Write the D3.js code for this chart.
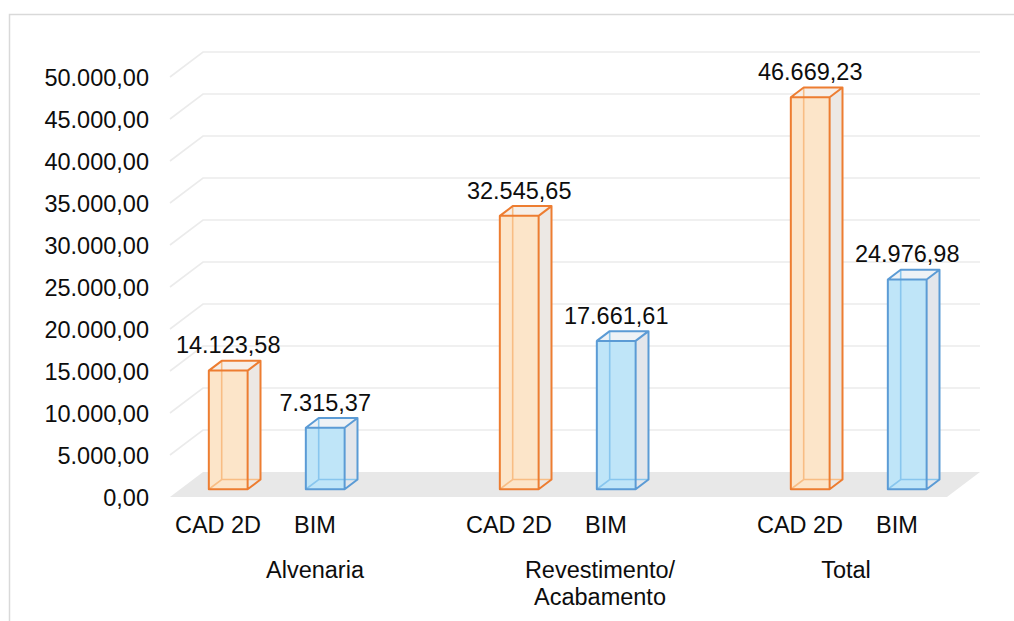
<!DOCTYPE html>
<html>
<head>
<meta charset="utf-8">
<script src="https://cdn.jsdelivr.net/npm/d3@7/dist/d3.min.js"></script>
<style>
  html, body { margin: 0; padding: 0; background: #fff; }
  svg { display: block; }
  text { font-family: "Liberation Sans", Arial, sans-serif; fill: #0d0d0d; }
</style>
</head>
<body>
<svg id="chart" width="1014" height="621"></svg>
<script>
// Groups on the category axis, the two methods compared, and their values
const groups = ["Alvenaria", "Revestimento/\nAcabamento", "Total"];
const methods = ["CAD 2D", "BIM"];
const cad2dValues = [14123.58, 32545.65, 46669.23];
const bimValues = [7315.37, 17661.61, 24976.98];
const yTicks = [0, 5000, 10000, 15000, 20000, 25000, 30000, 35000, 40000, 45000, 50000];

const W = 1014, H = 621;
const svg = d3.select("#chart");

// pt-BR number format: 50.000,00
const ptBR = d3.formatLocale({ decimal: ",", thousands: ".", grouping: [3], currency: ["R$", ""] });
const fmt = ptBR.format(",.2f");

// Oblique depth of the 3D box: full depth offset on screen
const DX = 33, DY = 25;
const BAR_FRONT = 0.31, BAR_BACK = 0.70;

const y = d3.scaleLinear().domain([0, 50000]).range([497, 77]);
const x0 = d3.scaleBand().domain(groups).range([121, 994]).padding(0);
const x1 = d3.scaleBand().domain(methods).range([0, x0.bandwidth()])
  .paddingInner(0.6).paddingOuter(0.8);
const groupLabelX = d3.scaleOrdinal().domain(groups).range([315, 600, 846]);

const plotLeft = 170, plotRight = 947;

// project (x, value, depth) into the screen
function P(x, v, d) { return [x + d * DX, y(v) - d * DY]; }

const fontSize = 23.5;

// Outer chart border
svg.append("rect")
  .attr("x", 9.5).attr("y", 14.5)
  .attr("width", W + 50).attr("height", H + 50)
  .attr("fill", "none").attr("stroke", "#d9d9d9").attr("stroke-width", 1.5);

// Floor
const floorPts = [P(plotLeft, 0, 0), P(plotRight, 0, 0), P(plotRight, 0, 1), P(plotLeft, 0, 1)];
svg.append("polygon")
  .attr("points", floorPts.map(p => p.join(",")).join(" "))
  .attr("fill", "#e8e8e8");

// Gridlines: side-wall diagonal plus back wall horizontal
const grid = svg.append("g").attr("fill", "none").attr("stroke", "#ebebeb").attr("stroke-width", 1.6);
yTicks.filter(t => t > 0).forEach(t => {
  const a = P(plotLeft, t, 0), b = P(plotLeft, t, 1), c = P(plotRight, t, 1);
  grid.append("path").attr("d", d3.line()([a, b, c]));
});

// Y axis tick labels
svg.append("g").selectAll("text").data(yTicks).join("text")
  .attr("x", 149).attr("y", d => y(d) + 8.5)
  .attr("text-anchor", "end")
  .attr("font-size", fontSize)
  .text(d => fmt(d));

const styles = {
  "CAD 2D": { stroke: "#ed7d31", front: "#fce5c9", inner: "#f8bd84", side: "#ece8e4", top: "#f6efe8" },
  "BIM":    { stroke: "#5b9bd5", front: "#bfe5f8", inner: "#88c6ee", side: "#e3e6eb", top: "#eef2f6" }
};

const rows = [];
groups.forEach((g, i) => {
  rows.push({ group: g, method: "CAD 2D", value: cad2dValues[i] });
  rows.push({ group: g, method: "BIM", value: bimValues[i] });
});

const bars = svg.append("g");
rows.forEach(r => {
  const s = styles[r.method];
  const xl = x0(r.group) + x1(r.method);
  const xr = xl + x1.bandwidth();
  const v = r.value;
  const fbl = P(xl, 0, BAR_FRONT), fbr = P(xr, 0, BAR_FRONT);
  const ftl = P(xl, v, BAR_FRONT), ftr = P(xr, v, BAR_FRONT);
  const bbl = P(xl, 0, BAR_BACK), bbr = P(xr, 0, BAR_BACK);
  const btl = P(xl, v, BAR_BACK), btr = P(xr, v, BAR_BACK);
  const poly = pts => pts.map(p => p.join(",")).join(" ");
  const g = bars.append("g");

  // right side face and top face
  g.append("polygon").attr("points", poly([fbr, ftr, btr, bbr])).attr("fill", s.side);
  g.append("polygon").attr("points", poly([ftl, ftr, btr, btl])).attr("fill", s.top);
  // front face
  g.append("polygon").attr("points", poly([fbl, fbr, ftr, ftl])).attr("fill", s.front);
  // hidden edges seen through the glass
  g.append("path")
    .attr("d", d3.line()([fbl, bbl, bbr]) + "M" + bbl.join(",") + "L" + btl.join(","))
    .attr("fill", "none").attr("stroke", s.inner).attr("stroke-width", 1.6);
  // visible edges
  g.append("path")
    .attr("d", "M" + poly([fbl, fbr, ftr, ftl]).replace(/ /g, "L") + "Z" +
               "M" + ftl.join(",") + "L" + btl.join(",") + "L" + btr.join(",") + "L" + ftr.join(",") +
               "M" + btr.join(",") + "L" + bbr.join(",") + "L" + fbr.join(","))
    .attr("fill", "none").attr("stroke", s.stroke).attr("stroke-width", 2)
    .attr("stroke-linejoin", "round");

  // value label above the bar
  svg.append("text")
    .attr("x", (ftl[0] + ftr[0]) / 2)
    .attr("y", btl[1] - 7.5)
    .attr("text-anchor", "middle")
    .attr("font-size", fontSize)
    .text(fmt(v));

  // method label under the bar
  svg.append("text")
    .attr("x", xl + x1.bandwidth() / 2)
    .attr("y", 533)
    .attr("text-anchor", "middle")
    .attr("font-size", fontSize)
    .text(r.method);
});

// Group labels (multi-line where needed)
groups.forEach(g => {
  const t = svg.append("text")
    .attr("x", groupLabelX(g))
    .attr("y", 578)
    .attr("text-anchor", "middle")
    .attr("font-size", fontSize);
  g.split("\n").forEach((line, k) => {
    t.append("tspan").attr("x", groupLabelX(g)).attr("dy", k === 0 ? 0 : 26.5).text(line);
  });
});
</script>
</body>
</html>
